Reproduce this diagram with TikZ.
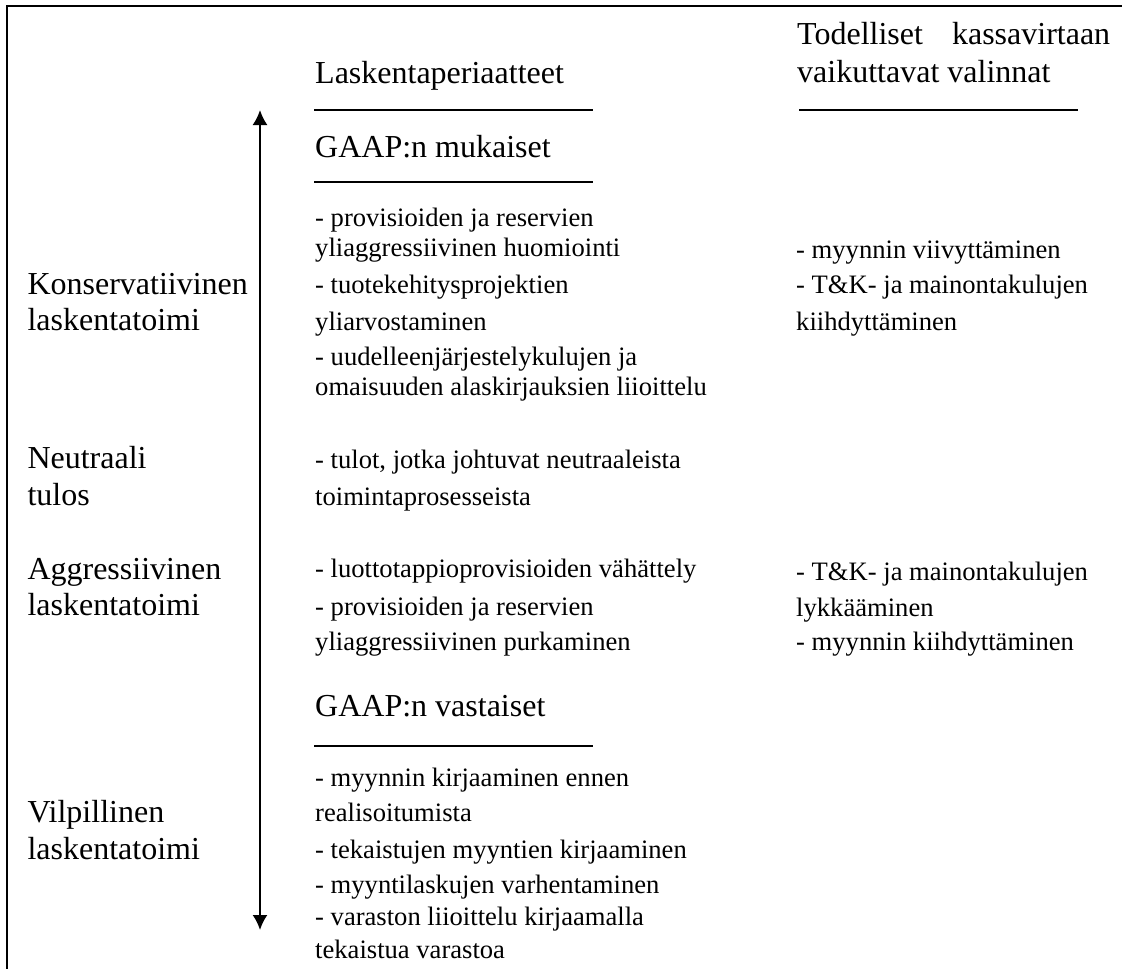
\documentclass[tikz,border=0pt]{standalone}
\usepackage{fontspec}
\setmainfont{Liberation Serif}
\usetikzlibrary{arrows.meta}
\begin{document}
\begin{tikzpicture}[x=1pt,y=-1pt,
  hdr/.style={anchor=base west, inner sep=0pt, font=\fontsize{32}{38}\selectfont},
  body/.style={anchor=base west, inner sep=0pt, font=\fontsize{26.6}{30}\selectfont},
  rule/.style={line width=2pt},
  frame/.style={line width=2pt}]
\useasboundingbox (0,0) rectangle (1122,969);
% frame (cropped)
\coordinate (fb) at (6.7,969);
\coordinate (fc) at (6.7,6);
\coordinate (fr) at (1122,6);
\draw[frame] (fb) -- (fc) -- (fr);
% headers
\node[hdr] (h1) at (315,83) {Laskentaperiaatteet};
\node[hdr] (h2a) at (797,44) {\makebox[313pt][s]{Todelliset kassavirtaan}};
\node[hdr] (h2b) at (797,82) {vaikuttavat valinnat};
\coordinate (r1a) at (314,110); \coordinate (r1b) at (593,110);
\draw[rule] (r1a) -- (r1b);
\coordinate (r2a) at (799,110); \coordinate (r2b) at (1078,110);
\draw[rule] (r2a) -- (r2b);
\node[hdr] (g1) at (315,157) {GAAP:n mukaiset};
\coordinate (r3a) at (314,182); \coordinate (r3b) at (593,182);
\draw[rule] (r3a) -- (r3b);
\node[hdr] (g2) at (315,716.7) {GAAP:n vastaiset};
\coordinate (r4a) at (314,746); \coordinate (r4b) at (593,746);
\draw[rule] (r4a) -- (r4b);
% arrow
\coordinate (atop) at (260,110);
\coordinate (abot) at (260,930);
\draw[line width=2pt, {Latex[length=15pt,width=15pt]}-{Latex[length=15pt,width=15pt]}] (abot) -- (atop);
% left labels
\node[hdr] (k1) at (27.3,294) {Konservatiivinen};
\node[hdr] (k2) at (27.3,330.7) {laskentatoimi};
\node[hdr] (n1) at (27.3,468.3) {Neutraali};
\node[hdr] (n2) at (27.3,505) {tulos};
\node[hdr] (a1) at (27.3,579.3) {Aggressiivinen};
\node[hdr] (a2) at (27.3,615) {laskentatoimi};
\node[hdr] (v1) at (27.3,822.3) {Vilpillinen};
\node[hdr] (v2) at (27.3,859) {laskentatoimi};
% middle column
\node[body] (m1) at (315,226.7) {- provisioiden ja reservien};
\node[body] (m2) at (315,256.7) {yliaggressiivinen huomiointi};
\node[body] (m3) at (315,293.3) {- tuotekehitysprojektien};
\node[body] (m4) at (315,330) {yliarvostaminen};
\node[body] (m5) at (315,365) {- uudelleenjärjestelykulujen ja};
\node[body] (m6) at (315,395) {omaisuuden alaskirjauksien liioittelu};
\node[body] (m7) at (315,468.3) {- tulot, jotka johtuvat neutraaleista};
\node[body] (m8) at (315,505) {toimintaprosesseista};
\node[body] (m9) at (315,577.7) {- luottotappioprovisioiden vähättely};
\node[body] (m10) at (315,615) {- provisioiden ja reservien};
\node[body] (m11) at (315,650) {yliaggressiivinen purkaminen};
\node[body] (m12) at (315,786.7) {- myynnin kirjaaminen ennen};
\node[body] (m13) at (315,821.7) {realisoitumista};
\node[body] (m14) at (315,858.3) {- tekaistujen myyntien kirjaaminen};
\node[body] (m15) at (315,893.3) {- myyntilaskujen varhentaminen};
\node[body] (m16) at (315,925) {- varaston liioittelu kirjaamalla};
\node[body] (m17) at (315,958.3) {tekaistua varastoa};
% right column
\node[body] (c1) at (796,258.3) {- myynnin viivyttäminen};
\node[body] (c2) at (796,293.3) {- T\&K- ja mainontakulujen};
\node[body] (c3) at (796,330) {kiihdyttäminen};
\node[body] (c4) at (796,580) {- T\&K- ja mainontakulujen};
\node[body] (c5) at (796,616) {lykkääminen};
\node[body] (c6) at (796,650) {- myynnin kiihdyttäminen};
\end{tikzpicture}
\end{document}
